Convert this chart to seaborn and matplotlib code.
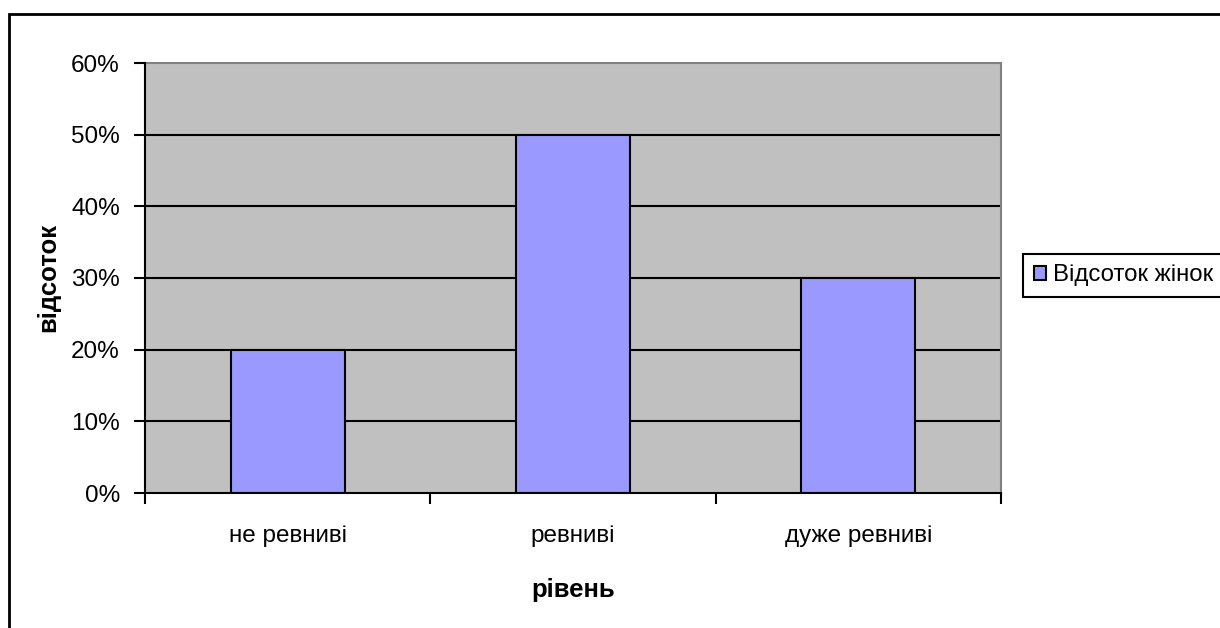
import matplotlib
matplotlib.use("Agg")
import matplotlib.pyplot as plt
import matplotlib.patches as mpatches
from matplotlib.ticker import PercentFormatter, FixedLocator
import seaborn as sns
import pandas as pd

categories = ["не ревниві", "ревниві", "дуже ревниві"]
women_share = [0.20, 0.50, 0.30]
series_name = "Відсоток жінок"
y_label = "відсоток"
x_label = "рівень"

sns.set_theme(style="white")
plt.rcParams["font.family"] = ["Liberation Sans", "DejaVu Sans"]
plt.rcParams["text.color"] = "black"
plt.rcParams["axes.labelcolor"] = "black"
plt.rcParams["xtick.color"] = "black"
plt.rcParams["ytick.color"] = "black"

W, H = 1220, 628
fig = plt.figure(figsize=(W / 100, H / 100), dpi=100)
fig.patch.set_facecolor("white")

# outer chart frame (runs off the right and bottom edges)
frame = mpatches.Rectangle((9 / W, -0.05), 1.2, (1 - 14 / H) + 0.05,
                           transform=fig.transFigure, fill=False,
                           edgecolor="black", linewidth=2, zorder=0)
fig.patches.append(frame)

ax = fig.add_axes([145 / W, 1 - 493 / H, (1001 - 145) / W, (493 - 63) / H])
ax.set_facecolor("#C0C0C0")

df = pd.DataFrame({"level": categories, "share": women_share})
sns.barplot(data=df, x="level", y="share", ax=ax, width=0.4,
            color="#9999FF", edgecolor="black", linewidth=1.5,
            saturation=1, label=series_name, zorder=3)

ax.set_ylim(0, 0.6)
ax.set_xlim(-0.5, 2.5)
ax.yaxis.set_major_locator(FixedLocator([0, 0.1, 0.2, 0.3, 0.4, 0.5, 0.6]))
ax.yaxis.set_major_formatter(PercentFormatter(1.0, decimals=0))
for yv in [0.1, 0.2, 0.3, 0.4, 0.5]:
    ax.axhline(yv, color="black", linewidth=1.5, zorder=1)

# spines: black axes, gray plot-area border
for side in ["left", "bottom"]:
    ax.spines[side].set_color("black")
    ax.spines[side].set_linewidth(1.5)
    ax.spines[side].set_zorder(5)
for side in ["top", "right"]:
    ax.spines[side].set_color("#808080")
    ax.spines[side].set_linewidth(1.5)

ax.tick_params(axis="y", which="major", direction="out", length=8, width=1.5,
               color="black", labelcolor="black", pad=10, labelsize=17.5,
               left=True)
ax.xaxis.set_minor_locator(FixedLocator([-0.5, 0.5, 1.5, 2.5]))
ax.tick_params(axis="x", which="minor", direction="out", length=8, width=1.5,
               color="black", bottom=True)
ax.tick_params(axis="x", which="major", length=0, pad=23, labelsize=17.5,
               labelcolor="black")

ax.set_xlabel(x_label, fontsize=18.5, fontweight="bold", color="black")
ax.set_ylabel(y_label, fontsize=18.5, fontweight="bold", color="black")
ax.xaxis.label.set_va("center")
ax.yaxis.label.set_va("center")
ax.xaxis.set_label_coords(0.5, (493 - 590) / (493 - 63))
ax.yaxis.set_label_coords((48 - 145) / (1001 - 145), 0.5)

leg = ax.legend(loc="center left", bbox_to_anchor=(1023 / W, 1 - 275.5 / H),
                bbox_transform=fig.transFigure, borderaxespad=0,
                fancybox=False, shadow=False, framealpha=1,
                edgecolor="black", fontsize=17.3, handlelength=0.5,
                handleheight=0.5, handletextpad=0.3, borderpad=0.45)
leg.get_frame().set_linewidth(1.5)
for t in leg.get_texts():
    t.set_color("black")

fig.savefig("out.png", dpi=100)
